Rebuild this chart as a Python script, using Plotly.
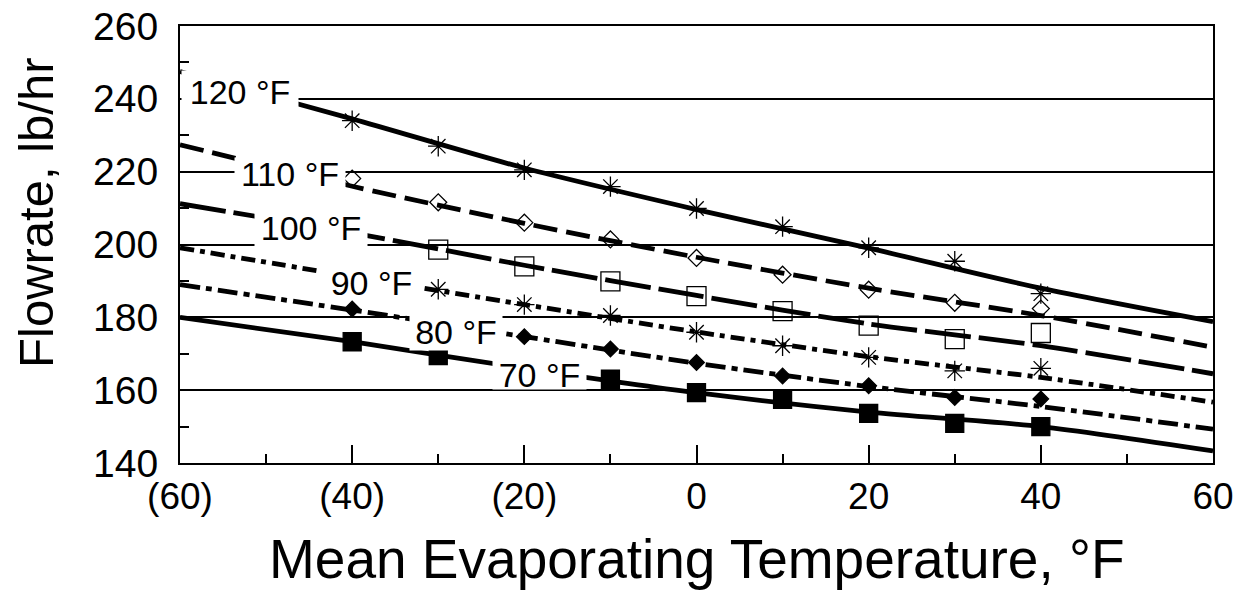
import plotly.graph_objects as go

# ---------------- data ----------------
curve_x = [-60, -40, -20, 0, 20, 40, 60]
curve_120 = [247.5, 234.5, 221.0, 209.6, 199.0, 188.0, 178.8]
curve_110 = [227.4, 216.0, 205.8, 196.5, 188.0, 180.5, 171.8]
curve_100 = [211.2, 203.2, 194.3, 186.0, 178.2, 172.2, 164.5]
curve_90 = [199.1, 191.2, 183.5, 176.0, 169.2, 163.5, 156.7]
curve_80 = [189.0, 182.0, 174.7, 167.4, 161.0, 155.5, 149.3]
curve_70 = [180.0, 173.3, 166.0, 159.3, 154.0, 150.0, 143.3]

pts_120_x = [-40, -30, -20, -10, 0, 10, 20, 30, 40]
pts_120_y = [234.0, 227.0, 220.5, 215.9, 209.9, 204.9, 199.1, 195.4, 186.5]
pts_110_x = [-40, -30, -20, -10, 0, 10, 20, 30, 40]
pts_110_y = [218.1, 211.6, 206.0, 201.4, 196.3, 191.7, 187.6, 184.0, 182.4]
pts_100_x = [-30, -20, -10, 0, 10, 20, 30, 40]
pts_100_y = [198.6, 194.0, 189.9, 185.8, 181.7, 177.7, 174.0, 175.7]
pts_90_x = [-30, -20, -10, 0, 10, 20, 30, 40]
pts_90_y = [187.7, 183.5, 180.5, 175.9, 172.2, 169.0, 165.3, 166.0]
pts_80_x = [-40, -20, -10, 0, 10, 20, 30, 40]
pts_80_y = [182.3, 174.7, 171.3, 167.6, 163.9, 161.2, 158.0, 157.6]
pts_70_x = [-40, -30, -10, 0, 10, 20, 30, 40]
pts_70_y = [173.3, 169.5, 163.0, 159.3, 157.5, 153.6, 150.9, 150.0]

series_names = ["120 °F", "110 °F", "100 °F", "90 °F", "80 °F", "70 °F"]

x_tick_vals = [-60, -40, -20, 0, 20, 40, 60]
x_tick_text = ["(60)", "(40)", "(20)", "0", "20", "40", "60"]
y_tick_vals = [140, 160, 180, 200, 220, 240, 260]

x_title = "Mean Evaporating Temperature, °F"
y_title = "Flowrate, lb/hr"

# ---------------- styling ----------------
FONT = "Liberation Sans, Arial, Helvetica, sans-serif"
curves = [curve_120, curve_110, curve_100, curve_90, curve_80, curve_70]
dashes = ["solid", "24px,9px", "46px,8px", "14px,6px,5px,6px", "20px,6px,6px,6px", "solid"]
points = [(pts_120_x, pts_120_y), (pts_110_x, pts_110_y), (pts_100_x, pts_100_y),
          (pts_90_x, pts_90_y), (pts_80_x, pts_80_y), (pts_70_x, pts_70_y)]
symbols = ["asterisk-open", "diamond-open", "square-open", "asterisk-open", "diamond", "square"]
msizes = [17, 13, 19, 17, 12, 18]

fig = go.Figure()
for name, cy, dash in zip(series_names, curves, dashes):
    fig.add_trace(go.Scatter(
        x=curve_x, y=cy, mode="lines", name=name, showlegend=False,
        line=dict(color="black", width=4.8, dash=dash, shape="spline", smoothing=0.8),
        hoverinfo="skip"))
for name, (px, py), sym, ms in zip(series_names, points, symbols, msizes):
    fig.add_trace(go.Scatter(
        x=px, y=py, mode="markers", name=name, showlegend=False,
        marker=dict(symbol=sym, size=ms, color="black",
                    line=dict(color="black", width=1.3))))

# label placement (layout only): x, y, box width, box height
label_boxes = [(-53.0, 241.9, 116, 42), (-47.22, 219.5, 110, 31), (-44.78, 204.54, 112, 40),
               (-37.75, 189.4, 103, 28), (-27.94, 175.98, 92, 36), (-18.24, 164.17, 93, 28)]
annotations = []
for name, (lx, ly, w, h) in zip(series_names, label_boxes):
    annotations.append(dict(
        x=lx, y=ly, xref="x", yref="y", text=name, showarrow=False,
        xanchor="center", yanchor="middle", width=w, height=h,
        align="center", valign="middle", bgcolor="white", borderpad=0,
        font=dict(family=FONT, size=34, color="black")))

annotations.append(dict(
    x=0.5005, y=-0.22, xref="paper", yref="paper", text=x_title, showarrow=False,
    xanchor="center", yanchor="middle", font=dict(family=FONT, size=55, color="black")))
annotations.append(dict(
    x=-0.1395, y=0.572, xref="paper", yref="paper", text=y_title, showarrow=False,
    textangle=-90, xanchor="center", yanchor="middle",
    font=dict(family=FONT, size=49, color="black")))

# the page body adds an 8px offset; margins compensate so the plot box lands
# at the reference position in the browser window
fig.update_layout(
    width=1244, height=597,
    margin=dict(l=172, r=39, t=18, b=142, autoexpand=False),
    paper_bgcolor="white", plot_bgcolor="white",
    showlegend=False,
    annotations=annotations,
    font=dict(family=FONT, color="black"),
)
fig.update_xaxes(
    range=[-60, 60], tickmode="array", tickvals=x_tick_vals, ticktext=x_tick_text,
    ticks="inside", ticklen=18, tickwidth=1.5, tickcolor="black",
    minor=dict(tickmode="linear", tick0=-60, dtick=10, ticks="inside", ticklen=9,
               tickwidth=1.5, tickcolor="black", showgrid=False),
    showgrid=False, zeroline=False, automargin=False, ticklabeloverflow="allow",
    showline=True, linecolor="black", linewidth=2, mirror=True,
    tickfont=dict(family=FONT, size=37, color="black"), ticklabelstandoff=0,
)
fig.update_yaxes(
    range=[140, 260], tickmode="array", tickvals=y_tick_vals,
    ticks="inside", ticklen=9, tickwidth=1.5, tickcolor="black",
    minor=dict(tickmode="linear", tick0=140, dtick=10, ticks="inside", ticklen=9,
               tickwidth=1.5, tickcolor="black", showgrid=False),
    showgrid=True, gridcolor="black", gridwidth=1.5, zeroline=False, automargin=False,
    ticklabeloverflow="allow",
    showline=True, linecolor="black", linewidth=2, mirror=True,
    tickfont=dict(family=FONT, size=39, color="black"), ticklabelstandoff=12,
)

fig.write_html("out.html")
